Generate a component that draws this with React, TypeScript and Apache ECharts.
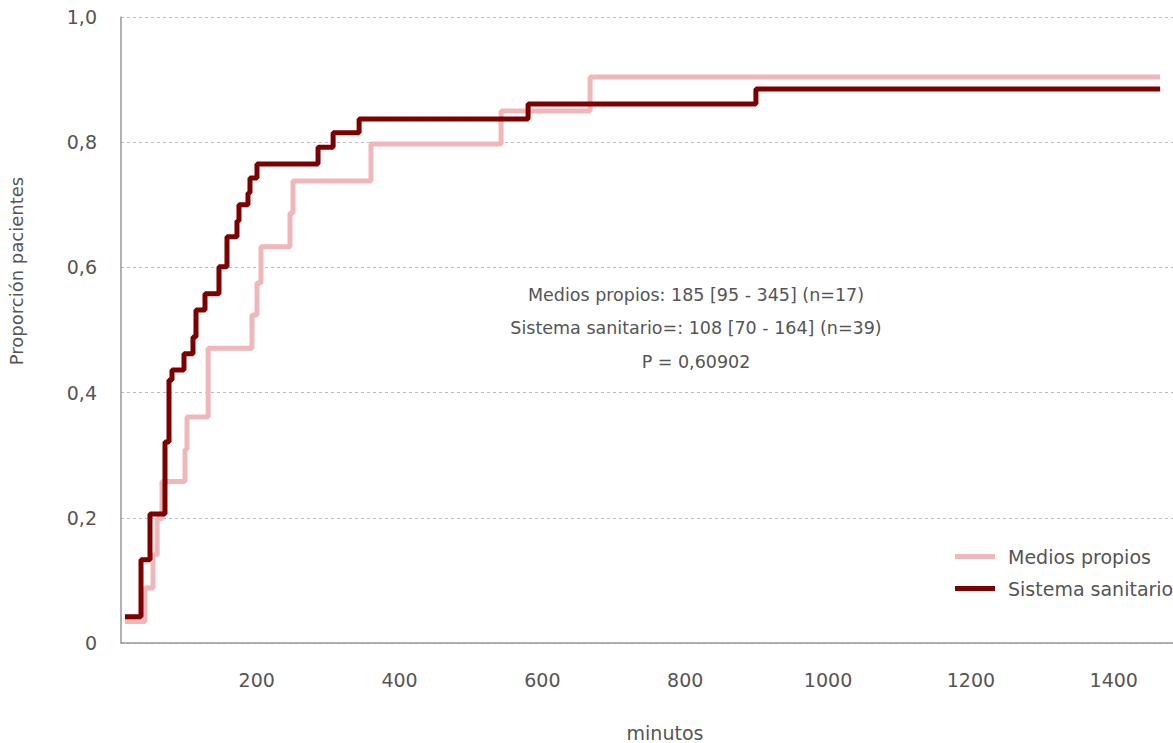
import React, { useEffect, useRef } from "react";
import * as echarts from "echarts";

const seriesNames = ["Medios propios", "Sistema sanitario"];
const seriesColors = ["#F0B7BB", "#7D0000"];

// [minutos, proporción]
const mediosPropios: [number, number][] = [
  [15.5, 0.0345], [43.5, 0.088], [54.8, 0.141], [60.6, 0.199], [67.4, 0.258],
  [99.6, 0.309], [102.4, 0.361], [132, 0.471], [193.4, 0.524], [200.4, 0.575],
  [206, 0.633], [246.6, 0.687], [250.8, 0.738], [360, 0.797], [542.2, 0.85],
  [666.8, 0.904], [1465, 0.904],
];

const sistemaSanitario: [number, number][] = [
  [15.5, 0.042], [38, 0.133], [50.6, 0.206], [71.6, 0.321], [77.2, 0.42],
  [81.4, 0.436], [98.2, 0.462], [110.8, 0.489], [115, 0.532], [127.6, 0.558],
  [147.2, 0.601], [158.4, 0.649], [172.4, 0.674], [175.2, 0.7], [187.8, 0.719],
  [190.6, 0.743], [200.4, 0.765], [285.9, 0.792], [307, 0.815], [343.4, 0.837],
  [580, 0.861], [899, 0.885], [1465, 0.885],
];

const xTickValues = [200, 400, 600, 800, 1000, 1200, 1400];
const annotationLines = [
  "Medios propios: 185 [95 - 345] (n=17)",
  "Sistema sanitario=: 108 [70 - 164] (n=39)",
  "P = 0,60902",
];
const yAxisTitle = "Proporción pacientes";
const xAxisTitle = "minutos";

const FONT = "'DejaVu Sans', sans-serif";
const TEXT_COLOR = "#555555";

export default function App() {
  const ref = useRef<HTMLDivElement>(null);

  useEffect(() => {
    if (!ref.current) return;
    const chart = echarts.init(ref.current, undefined, { renderer: "svg" });
    const annY = [294.5, 328, 362];
    chart.setOption({
      animation: false,
      textStyle: { fontFamily: FONT },
      grid: { left: 121, top: 17, right: 0, bottom: 100, containLabel: false },
      xAxis: {
        type: "value",
        min: 10,
        max: 1483,
        axisLine: { show: true, lineStyle: { color: "#999999", width: 1.5 } },
        axisTick: { show: false },
        splitLine: { show: false },
        axisLabel: {
          customValues: xTickValues,
          color: TEXT_COLOR,
          fontSize: 19,
          fontFamily: FONT,
          margin: 27,
          formatter: (v: number) => String(v),
        },
      },
      yAxis: {
        type: "value",
        min: 0,
        max: 1,
        interval: 0.2,
        axisLine: { show: true, lineStyle: { color: "#999999", width: 1.5 } },
        axisTick: { show: false },
        splitLine: { show: true, lineStyle: { color: "#bbbbbb", type: [3, 3], width: 1 } },
        axisLabel: {
          color: TEXT_COLOR,
          fontSize: 19,
          fontFamily: FONT,
          margin: 24,
          formatter: (v: number) => (v === 0 ? "0" : v.toFixed(1).replace(".", ",")),
        },
      },
      legend: {
        orient: "vertical",
        left: 950,
        top: 542,
        icon: "rect",
        itemWidth: 40,
        itemHeight: 5,
        itemGap: 13,
        textStyle: { color: TEXT_COLOR, fontSize: 19, fontFamily: FONT, padding: [0, 0, 0, 8] },
        data: seriesNames,
      },
      graphic: [
        {
          type: "text",
          x: 16,
          y: 271,
          rotation: Math.PI / 2,
          style: {
            text: yAxisTitle,
            fill: TEXT_COLOR,
            fontSize: 18,
            fontFamily: FONT,
            textAlign: "center",
            textVerticalAlign: "middle",
          },
        },
        {
          type: "text",
          x: 665,
          y: 733,
          style: {
            text: xAxisTitle,
            fill: TEXT_COLOR,
            fontSize: 19,
            fontFamily: FONT,
            textAlign: "center",
            textVerticalAlign: "middle",
          },
        },
        ...annotationLines.map((t, i) => ({
          type: "text",
          x: 696,
          y: annY[i],
          style: {
            text: t,
            fill: TEXT_COLOR,
            fontSize: 17.5,
            fontFamily: FONT,
            textAlign: "center",
            textVerticalAlign: "middle",
          },
        })),
      ],
      series: [
        {
          name: seriesNames[0],
          type: "line",
          step: "end",
          data: mediosPropios,
          showSymbol: false,
          symbol: "none",
          lineStyle: { color: seriesColors[0], width: 5 },
          itemStyle: { color: seriesColors[0] },
          z: 2,
        },
        {
          name: seriesNames[1],
          type: "line",
          step: "end",
          data: sistemaSanitario,
          showSymbol: false,
          symbol: "none",
          lineStyle: { color: seriesColors[1], width: 5 },
          itemStyle: { color: seriesColors[1] },
          z: 3,
        },
      ],
    });
    return () => chart.dispose();
  }, []);

  return <div ref={ref} style={{ width: 1173, height: 743, position: "absolute", left: 0, top: 0 }} />;
}
